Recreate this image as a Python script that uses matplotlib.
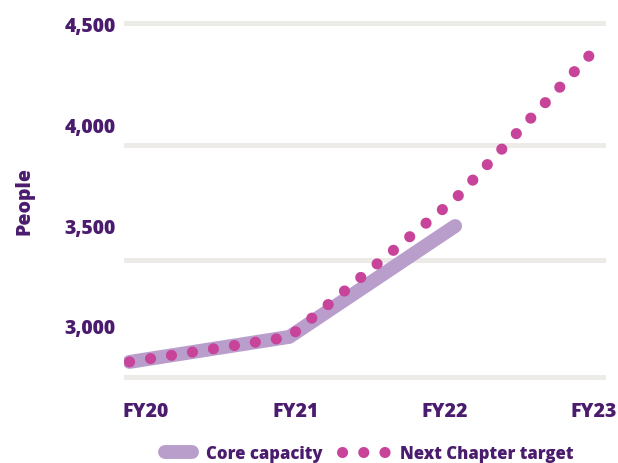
import matplotlib.pyplot as plt
from matplotlib.lines import Line2D
from matplotlib.legend_handler import HandlerLine2D

# values (x in years after FY20)
years = ["FY20", "FY21", "FY22", "FY23"]
core_x = [-0.11, 0.96, 2.07]
core_y = [2822, 2946, 3495]
target_x = [-0.11, 0.96, 2.07, 2.99]
target_y = [2822, 2946, 3629, 4356]
y_ticks = [3000, 3500, 4000, 4500]
grid_levels = [2748, 3327, 3896, 4500]

TEXT = "#4B1C6E"
CORE = "#B99ECB"
TARGET = "#C7449A"
GRID = "#EDEBE8"
DOTS = (0, (0.01, 1.9))


class ShortLine(HandlerLine2D):
    # legend swatch for the thick line, trimmed so it is shorter than the dotted one
    def create_artists(self, legend, orig_handle, xdescent, ydescent,
                       width, height, fontsize, trans):
        arts = super().create_artists(legend, orig_handle, xdescent, ydescent,
                                      width, height, fontsize, trans)
        for a in arts:
            xd = list(a.get_xdata())
            if len(xd) >= 2:
                xd[0] += 12.2
                xd[-1] -= 0.7
                a.set_xdata(xd)
        return arts


plt.rcParams['font.family'] = ['Open Sans', 'DejaVu Sans']

fig = plt.figure(figsize=(6.18, 4.64), dpi=100)
ax = fig.add_axes([0.2006, 0.1595, 0.78, 0.8082])

ax.plot(core_x, core_y, color=CORE, lw=10, solid_capstyle="round",
        solid_joinstyle="round", zorder=3)
ax.plot(target_x, target_y, color=TARGET, lw=8, linestyle=DOTS,
        dash_capstyle="round", zorder=4)

ax.set_xlim(-0.147, 3.08)
ax.set_ylim(2688, 4545)
ax.yaxis.remove_overlapping_locs = False
ax.set_xticks(range(len(years)))
ax.set_xticklabels(years)
ax.set_yticks(y_ticks)
ax.set_yticklabels([f"{v:,}" for v in y_ticks])
ax.set_yticks(grid_levels, minor=True)
ax.grid(False)
ax.yaxis.grid(True, which="minor", color=GRID, lw=3.6, solid_capstyle="round")
ax.set_axisbelow(True)
ax.tick_params(which="both", length=0)
ax.tick_params(axis="x", pad=9, labelsize=14, labelcolor=TEXT)
ax.tick_params(axis="y", pad=6, labelsize=14, labelcolor=TEXT)
for lab in ax.get_xticklabels() + ax.get_yticklabels():
    lab.set_fontweight(800)
for s in ax.spines.values():
    s.set_visible(False)

ax.set_ylabel("People", color=TEXT, fontsize=14, fontweight=800)
ax.yaxis.set_label_coords(-0.185, 0.504)

core_h = Line2D([], [], color=CORE, lw=10, solid_capstyle="round")
target_h = Line2D([], [], color=TARGET, lw=8, linestyle=DOTS, dash_capstyle="round")
leg = fig.legend([core_h, target_h], ["Core capacity", "Next Chapter target"],
                 loc="center", bbox_to_anchor=(0.584, 0.02), ncol=2, frameon=False,
                 fontsize=12, handlelength=2.7, columnspacing=1.14, handletextpad=0.78,
                 handler_map={core_h: ShortLine()})
for t in leg.get_texts():
    t.set_color(TEXT)
    t.set_fontweight(800)

fig.savefig("out.png", dpi=100)
